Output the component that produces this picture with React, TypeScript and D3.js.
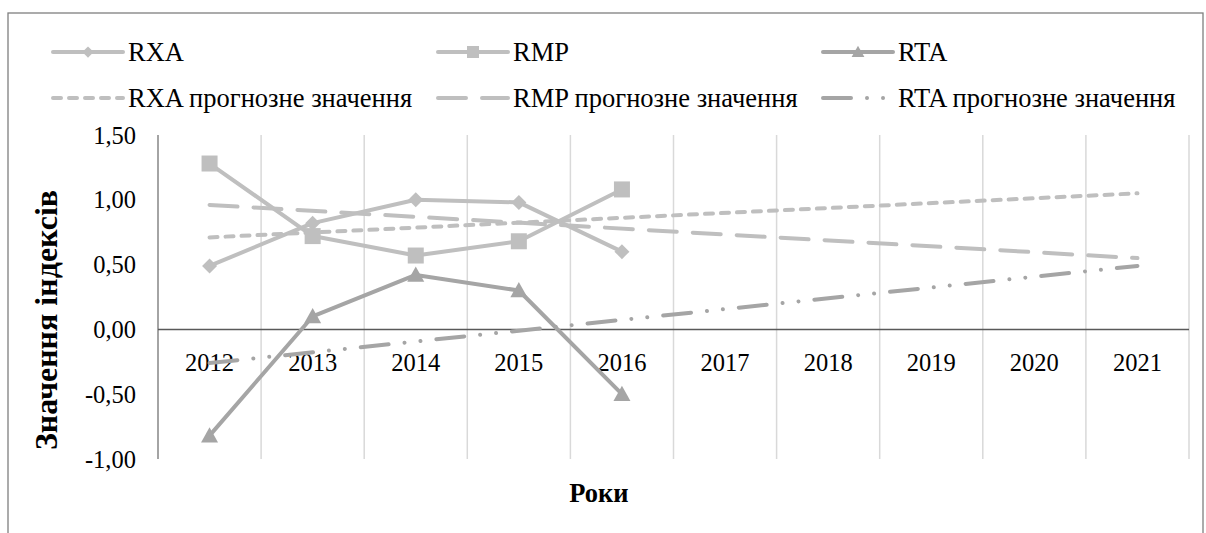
import React from 'react';
import * as d3 from 'd3';

const years = ['2012', '2013', '2014', '2015', '2016', '2017', '2018', '2019', '2020', '2021'];
const rxa = [0.49, 0.82, 1.0, 0.98, 0.6];
const rmp = [1.28, 0.72, 0.57, 0.68, 1.08];
const rta = [-0.82, 0.1, 0.42, 0.3, -0.5];
// forecast (trend) lines: values read at 2012 and at 2021
const forecastYears = ['2012', '2021'];
const rxaForecast = [0.71, 1.05];
const rmpForecast = [0.96, 0.55];
const rtaForecast = [-0.26, 0.49];
const yTicks = [1.5, 1.0, 0.5, 0, -0.5, -1.0];

const W = 1206;
const H = 533;
const FONT = "'Liberation Serif', 'DejaVu Serif', 'Times New Roman', serif";
const FS_TICK = 24.5;
const FS_LEGEND = 26.5;
const C_LIGHT = '#bfbfbf';
const C_DARK = '#a5a5a5';

const x = d3.scaleBand<string>().domain(years).range([158, 1189]);
const y = d3.scaleLinear().domain([-1, 1.5]).range([459, 135]);
const cx = (yr: string) => (x(yr) as number) + x.bandwidth() / 2;
const fmt = (v: number) => d3.format('.2f')(v).replace('.', ',').replace('−', '-');

const line = d3
  .line<[string, number]>()
  .x((d) => cx(d[0]))
  .y((d) => y(d[1]));

const pairs = (vals: number[], yrs: string[] = years) => vals.map((v, i) => [yrs[i], v] as [string, number]);

const Diamond = ({ x0, y0, s, fill }: { x0: number; y0: number; s: number; fill: string }) => (
  <path d={`M${x0},${y0 - s}L${x0 + s},${y0}L${x0},${y0 + s}L${x0 - s},${y0}Z`} fill={fill} />
);
const Square = ({ x0, y0, s, fill }: { x0: number; y0: number; s: number; fill: string }) => (
  <rect x={x0 - s} y={y0 - s} width={2 * s} height={2 * s} fill={fill} />
);
const Triangle = ({ x0, y0, s, fill }: { x0: number; y0: number; s: number; fill: string }) => (
  <path d={`M${x0},${y0 - s}L${x0 + s},${y0 + s * 0.8}L${x0 - s},${y0 + s * 0.8}Z`} fill={fill} />
);

const DASH_RXA = '8,8';
const DASH_RMP = '28,16';
const DASH_RTA = '28,16,0.01,16,0.01,16';

const tickStyle = { fontFamily: FONT, fontSize: FS_TICK } as React.CSSProperties;
const legendStyle = { fontFamily: FONT, fontSize: FS_LEGEND } as React.CSSProperties;

export default function App() {
  const legendCols = [53, 438, 823];
  const legendRows = [52, 98];
  const legendItems = [
    { label: 'RXA', col: 0, row: 0, color: C_LIGHT, dash: undefined, marker: 'diamond' },
    { label: 'RMP', col: 1, row: 0, color: C_LIGHT, dash: undefined, marker: 'square' },
    { label: 'RTA', col: 2, row: 0, color: C_DARK, dash: undefined, marker: 'triangle' },
    { label: 'RXA прогнозне значення', col: 0, row: 1, color: C_LIGHT, dash: DASH_RXA, marker: null },
    { label: 'RMP прогнозне значення', col: 1, row: 1, color: C_LIGHT, dash: DASH_RMP, marker: null },
    { label: 'RTA прогнозне значення', col: 2, row: 1, color: C_DARK, dash: DASH_RTA, marker: null },
  ];

  const markerFor = (m: string | null, x0: number, y0: number, fill: string, k: string, scale = 1) => {
    if (m === 'diamond') return <Diamond key={k} x0={x0} y0={y0} s={7.5 * scale} fill={fill} />;
    if (m === 'square') return <Square key={k} x0={x0} y0={y0} s={8 * scale} fill={fill} />;
    if (m === 'triangle') return <Triangle key={k} x0={x0} y0={y0} s={8.5 * scale} fill={fill} />;
    return null;
  };

  return (
    <svg width={W} height={H} style={{ position: 'absolute', left: 0, top: 0, background: '#fff', fontFamily: FONT }}>
      <rect x={0} y={0} width={W} height={H} fill="#fff" />
      <rect x={8} y={13} width={1195} height={540} fill="none" stroke="#7f7f7f" strokeWidth={1.3} />

      {/* vertical gridlines */}
      {years.map((yr) => (
        <line
          key={'g' + yr}
          x1={(x(yr) as number) + x.bandwidth()}
          x2={(x(yr) as number) + x.bandwidth()}
          y1={y(1.5)}
          y2={y(-1)}
          stroke="#d9d9d9"
          strokeWidth={1.5}
        />
      ))}
      {/* y axis */}
      <line x1={158} x2={158} y1={y(1.5)} y2={y(-1)} stroke="#868686" strokeWidth={1.5} />
      {/* x axis at zero */}
      <line x1={158} x2={1189} y1={y(0)} y2={y(0)} stroke="#595959" strokeWidth={1.5} />

      {/* y tick labels */}
      {yTicks.map((t) => (
        <text key={'yt' + t} x={136} y={y(t)} dy="0.35em" textAnchor="end" style={tickStyle} fill="#000">
          {fmt(t)}
        </text>
      ))}
      {/* x tick labels */}
      {years.map((yr) => (
        <text key={'xt' + yr} x={cx(yr)} y={362} dy="0.35em" textAnchor="middle" style={tickStyle} fill="#000">
          {yr}
        </text>
      ))}

      {/* axis titles */}
      <text
        transform={`translate(46,${320}) rotate(-90)`}
        textAnchor="middle"
        dy="0.35em"
        style={{ fontFamily: FONT, fontSize: 32, fontWeight: 'bold' }}
        fill="#000"
      >
        Значення індексів
      </text>
      <text
        x={599}
        y={493}
        dy="0.35em"
        textAnchor="middle"
        style={{ fontFamily: FONT, fontSize: 26.5, fontWeight: 'bold' }}
        fill="#000"
      >
        Роки
      </text>

      {/* forecast lines */}
      <path d={line(pairs(rxaForecast, forecastYears)) || ''} fill="none" stroke={C_LIGHT} strokeWidth={4} strokeDasharray={DASH_RXA} strokeLinecap="round" />
      <path d={line(pairs(rmpForecast, forecastYears)) || ''} fill="none" stroke={C_LIGHT} strokeWidth={4} strokeDasharray={DASH_RMP} strokeLinecap="round" />
      <path d={line(pairs(rtaForecast, forecastYears)) || ''} fill="none" stroke={C_DARK} strokeWidth={4} strokeDasharray={DASH_RTA} strokeLinecap="round" />

      {/* series lines */}
      <path d={line(pairs(rxa)) || ''} fill="none" stroke={C_LIGHT} strokeWidth={4} strokeLinejoin="round" />
      {rxa.map((v, i) => markerFor('diamond', cx(years[i]), y(v), C_LIGHT, 'mx' + i))}
      <path d={line(pairs(rmp)) || ''} fill="none" stroke={C_LIGHT} strokeWidth={4} strokeLinejoin="round" />
      {rmp.map((v, i) => markerFor('square', cx(years[i]), y(v), C_LIGHT, 'mm' + i))}
      <path d={line(pairs(rta)) || ''} fill="none" stroke={C_DARK} strokeWidth={4} strokeLinejoin="round" />
      {rta.map((v, i) => markerFor('triangle', cx(years[i]), y(v), C_DARK, 'mt' + i))}

      {/* legend */}
      {legendItems.map((it, i) => {
        const lx = legendCols[it.col];
        const ly = legendRows[it.row];
        return (
          <g key={'lg' + i}>
            <line
              x1={lx}
              x2={lx + 70}
              y1={ly}
              y2={ly}
              stroke={it.color}
              strokeWidth={4}
              strokeDasharray={it.dash}
              strokeLinecap="round"
            />
            {markerFor(it.marker, lx + 35, ly, it.color, 'lm' + i, 0.75)}
            <text x={lx + 75} y={ly} dy="0.35em" style={legendStyle} fill="#000">
              {it.label}
            </text>
          </g>
        );
      })}
    </svg>
  );
}
